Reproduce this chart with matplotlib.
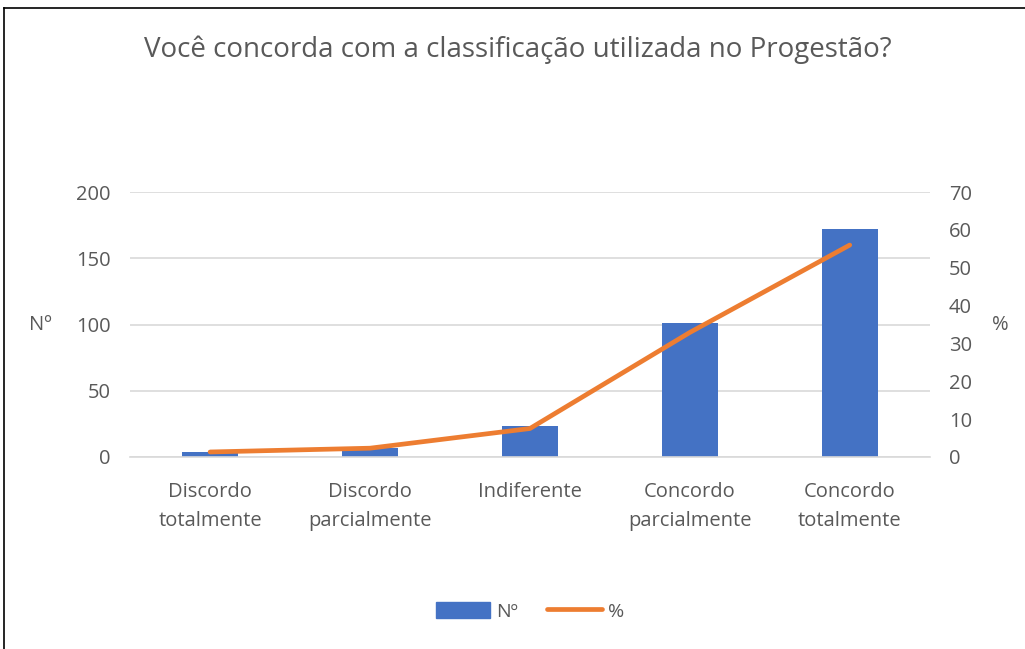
import matplotlib.pyplot as plt
from matplotlib.lines import Line2D
from matplotlib.patches import Patch

categories = ["Discordo\ntotalmente", "Discordo\nparcialmente", "Indiferente",
              "Concordo\nparcialmente", "Concordo\ntotalmente"]
counts = [4, 7, 23, 101, 172]
percent = [1.3, 2.3, 7.5, 32.9, 56.0]

plt.rcParams['font.family'] = ['Open Sans', 'DejaVu Sans']
grey = '#595959'
blue = '#4472C4'
orange = '#ED7D31'

fig = plt.figure(figsize=(10.25, 6.49), dpi=100)
ax = fig.add_axes([0.127, 0.296, 0.780, 0.408])
ax2 = ax.twinx()

x = list(range(len(categories)))
ax.bar(x, counts, width=0.35, color=blue, zorder=2)
ax2.plot(x, percent, color=orange, linewidth=3.4, solid_capstyle='round', zorder=3)

ax.set_xlim(-0.5, 4.5)
ax.set_ylim(0, 200)
ax.set_yticks([0, 50, 100, 150, 200])
ax2.set_ylim(0, 70)
ax2.set_yticks(range(0, 71, 10))

ax.yaxis.grid(True, color='#D9D9D9', linewidth=1.2, zorder=0)
ax.set_axisbelow(True)
for a in (ax, ax2):
    for s in a.spines.values():
        s.set_visible(False)
    a.tick_params(length=0, labelsize=14.5, labelcolor=grey)
ax.spines['bottom'].set_visible(True)
ax.spines['bottom'].set_color('#D9D9D9')
ax.spines['bottom'].set_linewidth(1.2)

ax.set_xticks(x)
ax.set_xticklabels(categories, linespacing=1.6)
ax.tick_params(axis='x', pad=18)
ax.tick_params(axis='y', pad=14)
ax2.tick_params(axis='y', pad=14)

ax.set_ylabel("Nº", rotation=0, fontsize=14.5, color=grey, labelpad=26, va='center')
ax2.set_ylabel("%", rotation=0, fontsize=14.5, color=grey, labelpad=20, va='center')

fig.text(0.505, 0.923, "Você concorda com a classificação utilizada no Progestão?",
         ha='center', va='center', fontsize=20, color=grey)

handles = [Patch(color=blue, label="Nº"),
           Line2D([0], [0], color=orange, linewidth=3.4, solid_capstyle='round', label="%")]
fig.legend(handles=handles, loc='center', bbox_to_anchor=(0.517, 0.058), ncol=2,
           frameon=False, fontsize=14, labelcolor=grey, handlelength=2.8,
           handleheight=0.9, columnspacing=1.5, handletextpad=0.3)

# frame lines at left and top edge
fig.add_artist(Line2D([0.004, 0.004], [0, 0.988], color='black', linewidth=1.2,
                      transform=fig.transFigure))
fig.add_artist(Line2D([0.004, 1.0], [0.988, 0.988], color='black', linewidth=1.2,
                      transform=fig.transFigure))

fig.savefig("out.png", dpi=100)
